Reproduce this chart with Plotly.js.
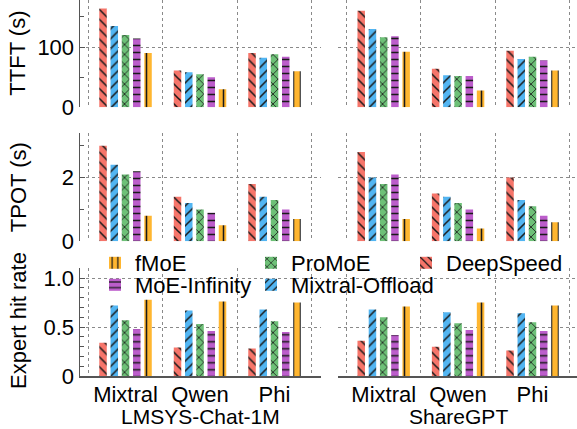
<!DOCTYPE html>
<html>
<head>
<meta charset="utf-8">
<script src="https://cdn.plot.ly/plotly-3.0.1.min.js"></script>
<style>html,body{margin:0;padding:0;background:#fff;}#chart{width:577px;height:429px;}</style>
</head>
<body>
<div id="chart"></div>
<script>
// ---- data ----
const models = ['Mixtral', 'Qwen', 'Phi'];
const datasets = ['LMSYS-Chat-1M', 'ShareGPT'];
const methods = ['DeepSpeed', 'Mixtral-Offload', 'ProMoE', 'MoE-Infinity', 'fMoE'];

// rows: DeepSpeed, Mixtral-Offload, ProMoE, MoE-Infinity, fMoE ; columns: Mixtral, Qwen, Phi
const ttftLmsys    = [[164, 61, 90], [135, 58, 82], [120, 55, 88], [114, 50, 84], [90, 30, 60]];
const ttftShareGPT = [[160, 64, 94], [130, 53, 80], [116, 52, 84], [118, 52, 78], [92, 28, 61]];
const tpotLmsys    = [[3.0, 1.4, 1.8], [2.4, 1.2, 1.4], [2.1, 1.0, 1.3], [2.2, 0.9, 1.0], [0.8, 0.5, 0.7]];
const tpotShareGPT = [[2.8, 1.5, 2.0], [2.0, 1.4, 1.3], [1.8, 1.2, 1.1], [2.1, 1.0, 0.8], [0.7, 0.4, 0.6]];
const hitLmsys     = [[0.34, 0.29, 0.28], [0.72, 0.67, 0.68], [0.57, 0.53, 0.56], [0.48, 0.46, 0.45], [0.78, 0.76, 0.75]];
const hitShareGPT  = [[0.36, 0.30, 0.26], [0.68, 0.65, 0.64], [0.60, 0.54, 0.55], [0.42, 0.47, 0.46], [0.71, 0.75, 0.72]];

const ttftTicks = [0, 100], ttftMinor = [50, 150];
const tpotTicks = [0, 2], tpotMinor = [1, 3];
const hitTicks = [0, 0.5, 1.0], hitTickText = ['0', '0.5', '1.0'];
const hitMinor = [0.1, 0.2, 0.3, 0.4, 0.6, 0.7, 0.8, 0.9, 1.1];

// ---- style ----
const colors = ['#F6756A', '#52B5F2', '#6DC077', '#BC5DCB', '#FFB630'];
const shapes = ['\\', '/', 'x', '-', '|'];
// legend slot per method: DeepSpeed col3 row1, Mixtral-Offload col2 row2, ProMoE col2 row1, MoE-Infinity col1 row2, fMoE col1 row1
const legendOf = ['legend3', 'legend5', 'legend2', 'legend4', 'legend'];
const xPos = [0, 1, 2];

const panels = [
  {data: ttftLmsys, xa: 'x', ya: 'y'},
  {data: ttftShareGPT, xa: 'x2', ya: 'y2'},
  {data: tpotLmsys, xa: 'x3', ya: 'y3'},
  {data: tpotShareGPT, xa: 'x4', ya: 'y4'},
  {data: hitLmsys, xa: 'x5', ya: 'y5', legend: true},
  {data: hitShareGPT, xa: 'x6', ya: 'y6'}
];

const traces = [];
methods.forEach((m, i) => {
  panels.forEach(p => {
    traces.push({
      type: 'bar', name: m, x: xPos, y: p.data[i], xaxis: p.xa, yaxis: p.ya,
      showlegend: !!p.legend, legend: legendOf[i],
      marker: {color: colors[i], line: {width: 0},
        pattern: {shape: shapes[i], fgcolor: '#1a1a1a', bgcolor: colors[i], size: 7, solidity: 0.22}},
      hoverinfo: 'skip'
    });
  });
});

const font = {family: 'Liberation Sans, Arial, sans-serif', size: 22, color: '#000'};
const gridColor = '#8a8a8a';
const lineColor = '#555';
const H = 376; // plot area height in px
function dom(topPx, botPx) { return [(H - botPx) / H, (H - topPx) / H]; }

const leftX = [-0.611, 2.624], rightX = [-0.614, 2.598];
const xMinor = {tickmode: 'array', tickvals: [-0.5, 0.5, 1.5, 2.5], showgrid: true, gridcolor: gridColor, griddash: 'dot', gridwidth: 1, ticks: ''};

function xAxis(domain, range, anchor, bottom) {
  return {
    domain: domain, range: range, anchor: anchor, fixedrange: true, automargin: false,
    showgrid: false, zeroline: false,
    showline: bottom, linecolor: lineColor, linewidth: 1.5,
    tickmode: 'array', tickvals: xPos, ticktext: models, showticklabels: bottom, ticks: '',
    tickfont: font, ticklabelstandoff: -2, minor: xMinor
  };
}
function yAxis(domain, range, anchor, tv, tt, minorVals, left) {
  return {
    domain: domain, range: range, anchor: anchor, fixedrange: true, automargin: false,
    showgrid: true, gridcolor: gridColor, griddash: 'dot', gridwidth: 1, zeroline: false,
    showline: left, linecolor: lineColor, linewidth: 1.5,
    tickmode: 'array', tickvals: tv, ticktext: tt, showticklabels: left,
    ticks: left ? 'inside' : '', ticklen: 5, tickcolor: lineColor, tickwidth: 1,
    tickfont: font,
    minor: {tickmode: 'array', tickvals: minorVals, ticks: left ? 'inside' : '', ticklen: 4, tickcolor: lineColor, showgrid: false}
  };
}

const xl = [0, 241 / 497], xr = [258 / 497, 1];
const dTop = dom(0, 107.3), dMid = dom(133, 241.3), dBot = dom(268.3, 376);

function leg(px, rowTopPx) {
  return {orientation: 'h', x: (px - 80) / 497, xanchor: 'left', y: (H - rowTopPx) / H, yanchor: 'top',
    bgcolor: 'rgba(0,0,0,0)', font: font, itemclick: false};
}
const row1 = 242, row2 = 264;
const dsFont = Object.assign({}, font, {size: 21});

const layout = {
  width: 577, height: 429,
  margin: {l: 80, r: 0, t: 0, b: 53},
  paper_bgcolor: '#fff', plot_bgcolor: 'rgba(0,0,0,0)',
  font: font,
  barmode: 'group', bargap: 0.245, bargroupgap: 0.333,
  xaxis: xAxis(xl, leftX, 'y', false),
  xaxis2: xAxis(xr, rightX, 'y2', false),
  xaxis3: xAxis(xl, leftX, 'y3', false),
  xaxis4: xAxis(xr, rightX, 'y4', false),
  xaxis5: xAxis(xl, leftX, 'y5', true),
  xaxis6: xAxis(xr, rightX, 'y6', true),
  yaxis: yAxis(dTop, [0, 178], 'x', ttftTicks, ttftTicks.map(String), ttftMinor, true),
  yaxis2: yAxis(dTop, [0, 178], 'x2', ttftTicks, ttftTicks.map(String), ttftMinor, false),
  yaxis3: yAxis(dMid, [0, 3.4], 'x3', tpotTicks, tpotTicks.map(String), tpotMinor, true),
  yaxis4: yAxis(dMid, [0, 3.4], 'x4', tpotTicks, tpotTicks.map(String), tpotMinor, false),
  yaxis5: yAxis(dBot, [0, 1.1], 'x5', hitTicks, hitTickText, hitMinor, true),
  yaxis6: yAxis(dBot, [0, 1.1], 'x6', hitTicks, hitTickText, hitMinor, false),
  legend: leg(95, row1),
  legend2: leg(251, row1),
  legend3: leg(406, row1),
  legend4: leg(95, row2),
  legend5: leg(251, row2),
  annotations: [
    {text: 'TTFT (s)', xref: 'paper', yref: 'paper', x: (18 - 80) / 497, y: (dTop[0] + dTop[1]) / 2, textangle: -90, showarrow: false, font: font, xanchor: 'center', yanchor: 'middle'},
    {text: 'TPOT (s)', xref: 'paper', yref: 'paper', x: (18 - 80) / 497, y: (dMid[0] + dMid[1]) / 2, textangle: -90, showarrow: false, font: font, xanchor: 'center', yanchor: 'middle'},
    {text: 'Expert hit rate', xref: 'paper', yref: 'paper', x: (18 - 80) / 497, y: (H - 321) / H, textangle: -90, showarrow: false, font: font, xanchor: 'center', yanchor: 'middle'},
    {text: datasets[0], xref: 'x5', yref: 'paper', x: 1, y: (H - 416) / H, showarrow: false, font: dsFont, xanchor: 'center', yanchor: 'middle'},
    {text: datasets[1], xref: 'x6', yref: 'paper', x: 1, y: (H - 416) / H, showarrow: false, font: dsFont, xanchor: 'center', yanchor: 'middle'}
  ]
};

Plotly.newPlot('chart', traces, layout, {displayModeBar: false, staticPlot: true});
</script>
</body>
</html>
